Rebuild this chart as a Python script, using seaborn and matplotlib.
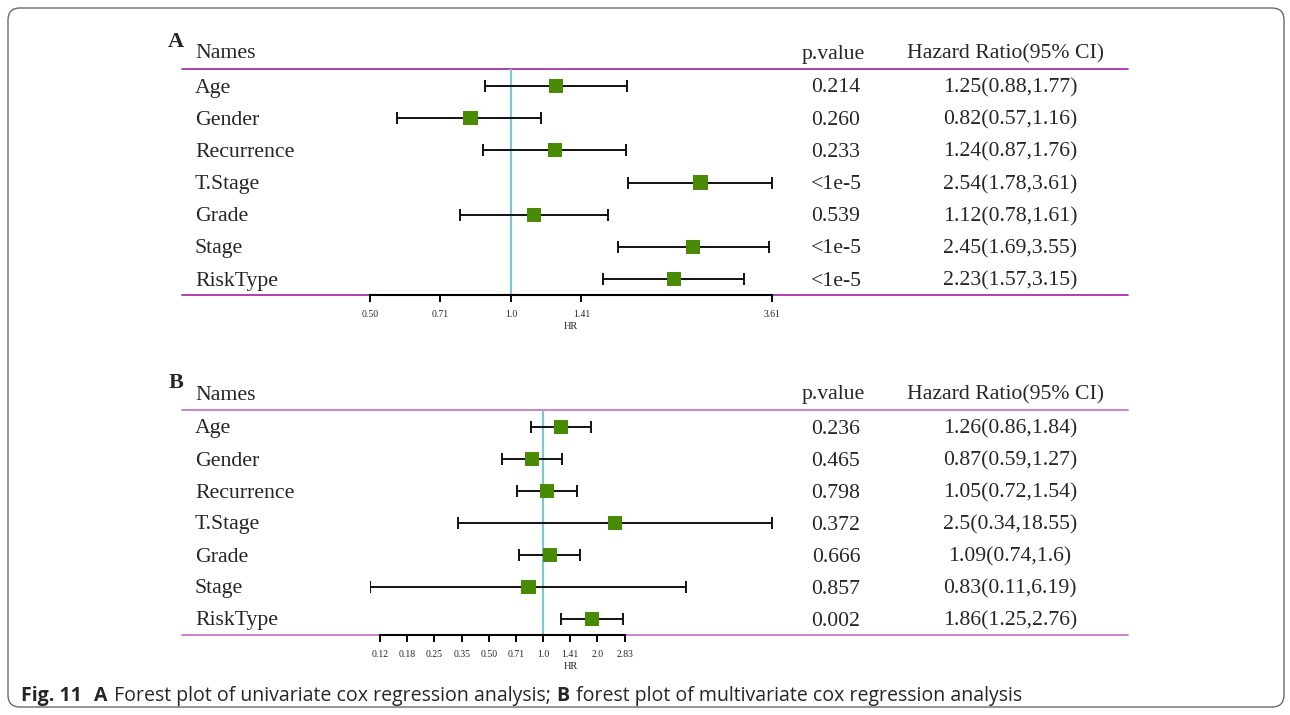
import numpy as np
import pandas as pd
import matplotlib
matplotlib.use("Agg")
import matplotlib.pyplot as plt
import matplotlib.transforms as mtransforms
from matplotlib.lines import Line2D
from matplotlib.patches import FancyBboxPatch
import seaborn as sns

# ---- data -------------------------------------------------------------
names = ["Age", "Gender", "Recurrence", "T.Stage", "Grade", "Stage", "RiskType"]

uni_hr = [1.25, 0.82, 1.24, 2.54, 1.12, 2.45, 2.23]
uni_lo = [0.88, 0.57, 0.87, 1.78, 0.78, 1.69, 1.57]
uni_hi = [1.77, 1.16, 1.76, 3.61, 1.61, 3.55, 3.15]
uni_p = ["0.214", "0.260", "0.233", "<1e-5", "0.539", "<1e-5", "<1e-5"]
uni_ci = ["1.25(0.88,1.77)", "0.82(0.57,1.16)", "1.24(0.87,1.76)", "2.54(1.78,3.61)",
          "1.12(0.78,1.61)", "2.45(1.69,3.55)", "2.23(1.57,3.15)"]

multi_hr = [1.26, 0.87, 1.05, 2.5, 1.09, 0.83, 1.86]
multi_lo = [0.86, 0.59, 0.72, 0.34, 0.74, 0.11, 1.25]
multi_hi = [1.84, 1.27, 1.54, 18.55, 1.6, 6.19, 2.76]
multi_p = ["0.236", "0.465", "0.798", "0.372", "0.666", "0.857", "0.002"]
multi_ci = ["1.26(0.86,1.84)", "0.87(0.59,1.27)", "1.05(0.72,1.54)", "2.5(0.34,18.55)",
            "1.09(0.74,1.6)", "0.83(0.11,6.19)", "1.86(1.25,2.76)"]

uni_ticks = [0.5, 0.707, 1.0, 1.414, 3.61]
uni_ticklabels = ["0.50", "0.71", "1.0", "1.41", "3.61"]
multi_ticks = [0.125, 0.177, 0.25, 0.354, 0.5, 0.707, 1.0, 1.414, 2.0, 2.83]
multi_ticklabels = ["0.12", "0.18", "0.25", "0.35", "0.50", "0.71", "1.0", "1.41", "2.0", "2.83"]

# ---- style ------------------------------------------------------------
sns.set_style("white")
plt.rcParams["font.family"] = ["Liberation Serif", "DejaVu Serif"]

W, H = 1290, 715
fig = plt.figure(figsize=(W / 100, H / 100), dpi=100)

GREEN = "#4A8B06"
REF = "#7CC8D2"
SERIF = ["Liberation Serif", "DejaVu Serif"]
FS = 15.7
BASE_DROP = 6.5   # pixels from row centre down to the text baseline


def px_x(x):
    return x / W


def forest(top, bottom, row0, step, xlim, spine_bounds, ticks, ticklabels,
           hr, lo, hi, pvals, cis, rule_color, letter):
    ax = fig.add_axes([px_x(370), 1 - bottom / H, px_x(402), (bottom - top) / H])
    df = pd.DataFrame({"name": names, "hr": hr, "lo": lo, "hi": hi,
                       "p": pvals, "ci": cis})
    df["row"] = np.arange(len(df))

    ax.set_xscale("log", base=2)
    ax.errorbar(df["hr"], df["row"],
                xerr=[df["hr"] - df["lo"], df["hi"] - df["hr"]],
                fmt="none", ecolor="black", elinewidth=1.3,
                capsize=4.5, capthick=1.3, zorder=2)
    sns.scatterplot(data=df, x="hr", y="row", marker="s", s=105,
                    color=GREEN, edgecolor="none", linewidth=0, ax=ax,
                    zorder=3, legend=False)
    ax.axvline(1.0, color=REF, lw=1.6, zorder=1)

    ax.set_xlim(*xlim)
    ylo = (bottom - row0) / step
    yhi = (top - row0) / step
    ax.set_ylim(ylo, yhi)

    for s in ("top", "right", "left"):
        ax.spines[s].set_visible(False)
    ax.spines["bottom"].set_bounds(*spine_bounds)
    ax.spines["bottom"].set_linewidth(1.5)
    ax.spines["bottom"].set_color("black")
    ax.spines["bottom"].set_zorder(5)
    ax.set_yticks([])
    ax.set_xticks(ticks)
    ax.xaxis.set_minor_locator(matplotlib.ticker.NullLocator())
    ax.set_xticklabels(ticklabels, fontsize=7, family=SERIF)
    ax.tick_params(axis="x", direction="out", length=5, width=1.4,
                   color="black", pad=6, bottom=True)
    ax.set_xlabel("HR", fontsize=7.5, family=SERIF, labelpad=2)
    ax.set_ylabel("")
    ax.patch.set_alpha(0)

    blend = mtransforms.blended_transform_factory(fig.transFigure, ax.transData)
    # horizontal rules of the table
    for yv in (yhi, ylo):
        ax.add_line(Line2D([px_x(182), px_x(1128)], [yv, yv], transform=blend,
                           color=rule_color, lw=1.3, clip_on=False, zorder=0))

    drop = BASE_DROP / step
    head_y = (top - 17 - row0) / step + drop
    ax.text(px_x(195), head_y, "Names", transform=blend, fontsize=FS,
            ha="left", va="baseline", family=SERIF)
    ax.text(px_x(833), head_y, "p.value", transform=blend, fontsize=FS,
            ha="center", va="baseline", family=SERIF)
    ax.text(px_x(1005), head_y, "Hazard Ratio(95% CI)", transform=blend,
            fontsize=FS, ha="center", va="baseline", family=SERIF)
    for _, r in df.iterrows():
        yb = r["row"] + drop
        ax.text(px_x(195), yb, r["name"], transform=blend, fontsize=FS,
                ha="left", va="baseline", family=SERIF)
        ax.text(px_x(836), yb, r["p"], transform=blend, fontsize=FS,
                ha="center", va="baseline", family=SERIF)
        ax.text(px_x(1010), yb, r["ci"], transform=blend, fontsize=FS,
                ha="center", va="baseline", family=SERIF)

    fig.text(px_x(176), 1 - (top - 22) / H, letter, fontsize=16,
             fontweight="bold", ha="center", va="baseline", family=SERIF)
    return ax


forest(69, 294.5, 86, 32.17, (0.5, 3.61), (0.5, 3.61), uni_ticks,
       uni_ticklabels, uni_hr, uni_lo, uni_hi, uni_p, uni_ci, "#A930AE", "A")
forest(410, 635, 427, 32.0, (0.11, 18.55), (0.125, 2.83), multi_ticks,
       multi_ticklabels, multi_hr, multi_lo, multi_hi, multi_p, multi_ci,
       "#C57BC9", "B")

# ---- frame and caption -----------------------------------------------
frame = FancyBboxPatch((0.08, 0.08), 12.76, 6.99,
                       boxstyle="round,pad=0,rounding_size=0.12",
                       transform=fig.dpi_scale_trans, fill=False,
                       edgecolor="#6a6a6a", lw=1.0)
fig.add_artist(frame)

over = fig.add_axes([0, 0, 1, 1])
over.set_axis_off()
over.patch.set_alpha(0)

CAP = ["Open Sans", "DejaVu Sans"]
CFS = 14.05
pieces = [("Fig. 11", "bold", 0), ("A", "bold", 9),
          (" Forest plot of univariate cox regression analysis; ", "normal", 1),
          ("B", "bold", 0),
          (" forest plot of multivariate cox regression analysis", "normal", 1)]
first = fig.text(px_x(21), 1 - 706 / H, pieces[0][0], fontsize=CFS,
                 fontweight=pieces[0][1], family=CAP, ha="left", va="bottom")
prev = first
for txt, weight, gap in pieces[1:]:
    prev = over.annotate(txt, xy=(1, 0), xycoords=prev, xytext=(gap, 0),
                         textcoords="offset points", fontsize=CFS,
                         fontweight=weight, family=CAP, ha="left",
                         va="bottom")

fig.savefig("out.png", dpi=100)
